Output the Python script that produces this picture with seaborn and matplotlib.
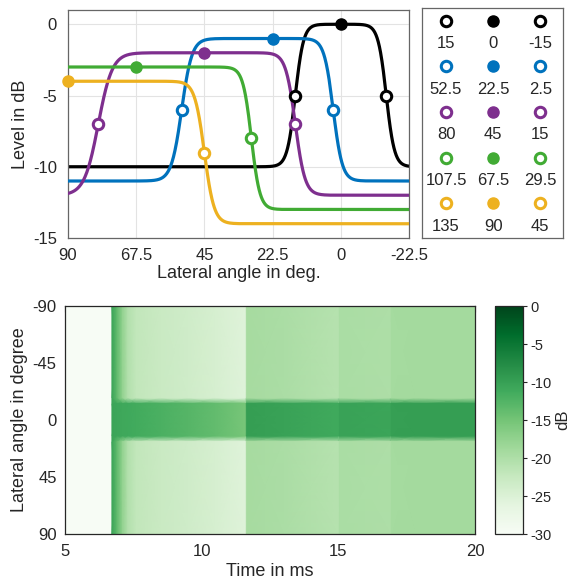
import numpy as np
import pandas as pd
import matplotlib
matplotlib.use("Agg")
import matplotlib.pyplot as plt
import seaborn as sns

# ---------------- data: top panel ----------------
colors = ["#000000", "#0072BD", "#7E2F8E", "#41AB34", "#EDB120"]
centers = [0, 22.5, 45, 67.5, 90]
left_edges = [15, 52.5, 80, 107.5, 135]
right_edges = [-15, 2.5, 15, 29.5, 45]
peaks = [0, -1, -2, -3, -4]
floors = [-10, -11, -12, -13, -14]
left_widths = [1.35, 1.7, 2.3, 1.5, 1.5]
right_widths = [1.35, 1.5, 1.6, 1.4, 1.6]
x_ticks = [90, 67.5, 45, 22.5, 0, -22.5]
x_tick_labels = ["90", "67.5", "45", "22.5", "0", "-22.5"]
y_ticks = [0, -5, -10, -15]

# ---------------- data: heatmap ----------------
times = [5.0, 6.70, 6.72, 6.9, 7.1, 7.3, 7.6, 8.5, 9.5, 10.5, 11.6, 11.65,
         13.0, 15.0, 15.05, 16.9, 16.95, 17.8, 20.0]
level_outside = [-30, -30, -10.5, -13.5, -17.5, -20.5, -22.0, -22.8, -23.5,
                 -24.3, -25.5, -19.3, -19.8, -20.8, -19.6, -20.0, -19.2, -19.0, -19.0]
level_center = [-30, -30, -10.5, -10.7, -10.9, -11.1, -11.3, -12.0, -12.8,
                -13.8, -15.3, -9.8, -10.3, -11.2, -10.2, -10.6, -9.9, -9.8, -9.8]
angles = [-90, -17, -13, 13, 17, 90]
band_weight = [0, 0, 1, 1, 0, 0]
hm_x_ticks = [5, 10, 15, 20]
hm_y_ticks = [-90, -45, 0, 45, 90]
cb_ticks = [0, -5, -10, -15, -20, -25, -30]

# ---------------- style ----------------
sns.set_style("white")
plt.rcParams["font.family"] = ["Liberation Sans", "DejaVu Sans"]
plt.rcParams["font.size"] = 12
txt = "#262626"
TS = 12   # tick label size
LS = 13   # axis label size

fig = plt.figure(figsize=(5.73, 5.85), dpi=100)
W, H = 573, 585

def box(l, t, r, b):
    return [l / W, 1 - b / H, (r - l) / W, (b - t) / H]

ax = fig.add_axes(box(68, 10, 409, 238))
lax = fig.add_axes(box(422, 8, 563, 238))
hax = fig.add_axes(box(65, 306, 475, 534))
cax = fig.add_axes(box(495, 306, 523, 534))

# ---------------- top panel ----------------
xs = np.linspace(-22.5, 90, 1200)
def sig(v):
    return 1.0 / (1.0 + np.exp(-v))

for i in range(5):
    f = sig((xs - right_edges[i]) / right_widths[i]) * sig((left_edges[i] - xs) / left_widths[i])
    ys = floors[i] + (peaks[i] - floors[i]) * f
    sns.lineplot(x=xs, y=ys, color=colors[i], lw=2.3, ax=ax, sort=False, zorder=2 + i)

for i in range(5):
    ex = [e for e in (left_edges[i], right_edges[i]) if -22.5 <= e <= 90]
    ax.plot(ex, [peaks[i] - 5] * len(ex), "o", ms=7.5, mfc="white", mec=colors[i],
            mew=2.2, clip_on=False, zorder=10)
    ax.plot([centers[i]], [peaks[i]], "o", ms=8, mfc=colors[i], mec=colors[i],
            clip_on=False, zorder=11)

ax.set_xlim(90, -22.5)
ax.set_ylim(-15, 1)
ax.set_xticks(x_ticks)
ax.set_xticklabels(x_tick_labels)
ax.set_yticks(y_ticks)
ax.set_yticklabels([str(v) for v in y_ticks])
ax.grid(True, color="#e3e3e3", lw=0.8)
ax.tick_params(direction="in", length=3, colors="#555555", labelcolor=txt, labelsize=TS)
ax.tick_params(axis="x", pad=7)
ax.tick_params(axis="y", pad=8)
for s in ax.spines.values():
    s.set_color("#666666")
    s.set_linewidth(0.9)
ax.set_xlabel("Lateral angle in deg.", color=txt, fontsize=LS, labelpad=2)
ax.set_ylabel("Level in dB", color=txt, fontsize=LS, labelpad=3)

# ---------------- legend table ----------------
for i in range(5):
    lax.plot([0, 2], [i, i], "o", ls="none", ms=7.5, mfc="white", mec=colors[i], mew=2.2)
    lax.plot([1], [i], "o", ms=8, mfc=colors[i], mec=colors[i])
    labels = [left_edges[i], centers[i], right_edges[i]]
    for j, v in enumerate(labels):
        lax.text(j, i + 0.5, f"{v:g}", ha="center", va="center", fontsize=TS, color=txt)
lax.set_xlim(-0.51, 2.48)
lax.set_ylim(4.76, -0.28)
lax.set_xticks([])
lax.set_yticks([])
for s in lax.spines.values():
    s.set_color("#666666")
    s.set_linewidth(0.9)

# ---------------- heatmap ----------------
T, A = np.meshgrid(times, angles)
out = np.array(level_outside)[None, :]
cen = np.array(level_center)[None, :]
wgt = np.array(band_weight)[:, None]
Z = out + wgt * (cen - out)
mesh = hax.pcolormesh(T, A, Z, shading="gouraud", cmap="Greens", vmin=-30, vmax=0)
hax.set_xlim(5, 20)
hax.set_ylim(90, -90)
hax.set_xticks(hm_x_ticks)
hax.set_yticks(hm_y_ticks)
hax.set_yticklabels([str(v) for v in hm_y_ticks])
hax.tick_params(direction="in", length=4, top=True, right=True, colors="#262626",
                labelcolor=txt, labelsize=TS)
hax.tick_params(axis="x", pad=7)
hax.tick_params(axis="y", pad=6)
for s in hax.spines.values():
    s.set_color("#262626")
    s.set_linewidth(0.9)
hax.set_xlabel("Time in ms", color=txt, fontsize=LS, labelpad=3)
hax.set_ylabel("Lateral angle in degree", color=txt, fontsize=LS, labelpad=3)

cb = fig.colorbar(mesh, cax=cax)
cb.set_ticks(cb_ticks)
cb.set_ticklabels([str(v) for v in cb_ticks])
cb.ax.tick_params(direction="out", length=3, colors="#262626", labelcolor=txt,
                  labelsize=10.5, pad=2)
cb.outline.set_edgecolor("#262626")
cb.outline.set_linewidth(0.9)
fig.text(563 / W, 1 - 420 / H, "dB", rotation=90, ha="center", va="center",
         color=txt, fontsize=12)

fig.savefig("out.png", dpi=100)
